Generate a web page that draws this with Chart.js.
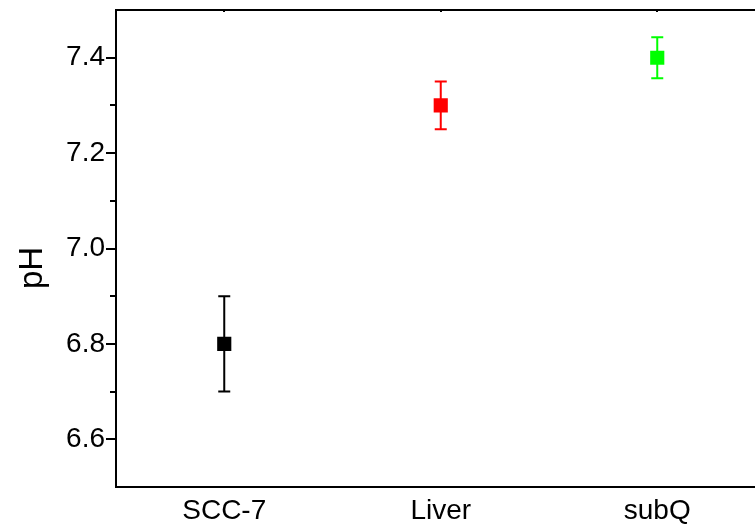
<!DOCTYPE html>
<html>
<head>
<meta charset="utf-8">
<script src="https://cdn.jsdelivr.net/npm/chart.js@4"></script>
<style>
html,body{margin:0;padding:0;background:#fff;overflow:hidden;}
#wrap{width:800px;height:529px;}
</style>
</head>
<body>
<div id="wrap"><canvas id="c" width="800" height="529"></canvas></div>
<script>
const categories = ['SCC-7', 'Liver', 'subQ'];
const phValues = [6.8, 7.3, 7.4];
const phErrors = [0.1, 0.05, 0.043];
const pointColors = ['#000000', '#ff0000', '#00ff00'];
const yTickValues = [6.6, 6.8, 7.0, 7.2, 7.4];
const yMinorValues = [6.7, 6.9, 7.1, 7.3];

const FONT = "'Liberation Sans', Arial, sans-serif";

const errorBars = {
  id: 'errorBars',
  beforeDatasetsDraw(chart) {
    const ctx = chart.ctx, xs = chart.scales.x, ys = chart.scales.y;
    ctx.save();
    ctx.lineWidth = 2;
    phValues.forEach((v, i) => {
      const x = xs.getPixelForValue(i + 1);
      const yt = ys.getPixelForValue(v + phErrors[i]);
      const yb = ys.getPixelForValue(v - phErrors[i]);
      ctx.strokeStyle = pointColors[i];
      ctx.beginPath();
      ctx.moveTo(x, yt); ctx.lineTo(x, yb);
      ctx.moveTo(x - 6, yt); ctx.lineTo(x + 6, yt);
      ctx.moveTo(x - 6, yb); ctx.lineTo(x + 6, yb);
      ctx.stroke();
    });
    ctx.restore();
  },
  afterDraw(chart) {
    const ctx = chart.ctx, ca = chart.chartArea, ys = chart.scales.y, xs = chart.scales.x;
    ctx.save();
    ctx.strokeStyle = '#000';
    ctx.lineWidth = 2;
    ctx.beginPath();
    ctx.moveTo(ca.left - 1, ca.top); ctx.lineTo(chart.width, ca.top);
    yTickValues.forEach(v => {
      const y = Math.round(ys.getPixelForValue(v));
      ctx.moveTo(ca.left, y); ctx.lineTo(ca.left - 10, y);
    });
    yMinorValues.forEach(v => {
      const y = Math.round(ys.getPixelForValue(v));
      ctx.moveTo(ca.left, y); ctx.lineTo(ca.left - 6, y);
    });
    ctx.stroke();
    // tiny top-axis tick stubs
    ctx.beginPath();
    categories.forEach((c, i) => {
      const x = Math.round(xs.getPixelForValue(i + 1));
      ctx.moveTo(x, ca.top - 1); ctx.lineTo(x, ca.top + 2);
    });
    ctx.stroke();
    // axis title
    ctx.fillStyle = '#000';
    ctx.font = '33px ' + FONT;
    ctx.textAlign = 'center';
    ctx.textBaseline = 'middle';
    ctx.translate(33, 268);
    ctx.rotate(-Math.PI / 2);
    ctx.fillText('pH', 0, 0);
    ctx.restore();
  }
};

new Chart(document.getElementById('c'), {
  type: 'scatter',
  data: {
    datasets: [{
      data: phValues.map((v, i) => ({ x: i + 1, y: v })),
      pointStyle: 'rect',
      pointRadius: 10,
      pointHoverRadius: 10,
      backgroundColor: pointColors,
      borderColor: pointColors,
      borderWidth: 0
    }]
  },
  options: {
    responsive: false,
    animation: false,
    layout: { padding: { left: 0, top: 9, right: 34.5, bottom: 0 } },
    plugins: { legend: { display: false }, tooltip: { enabled: false } },
    scales: {
      x: {
        type: 'linear',
        min: 0.5, max: 3.5,
        afterBuildTicks(scale) { scale.ticks = categories.map((c, i) => ({ value: i + 1 })); },
        afterFit(scale) { scale.height = 42; scale.paddingLeft = 0; scale.paddingRight = 0; },
        ticks: {
          color: '#000',
          font: { family: FONT, size: 28 },
          padding: 7,
          maxRotation: 0,
          callback: (v) => categories[Math.round(v) - 1]
        },
        grid: { drawOnChartArea: false, drawTicks: false },
        border: { display: true, color: '#000', width: 2 }
      },
      y: {
        min: 6.5, max: 7.5,
        afterBuildTicks(scale) { scale.ticks = yTickValues.map(v => ({ value: v })); },
        afterFit(scale) { scale.width = 116; scale.paddingTop = 0; scale.paddingBottom = 0; },
        ticks: {
          color: '#000',
          font: { family: FONT, size: 28 },
          padding: 11,
          callback: (v) => v.toFixed(1)
        },
        grid: { drawOnChartArea: false, drawTicks: false },
        border: { display: true, color: '#000', width: 2 }
      }
    }
  },
  plugins: [errorBars]
});
</script>
</body>
</html>
